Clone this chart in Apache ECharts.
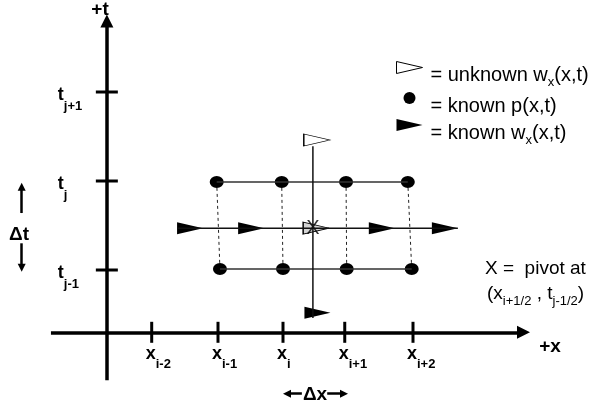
<!DOCTYPE html>
<html>
<head>
<meta charset="utf-8">
<script src="https://cdn.jsdelivr.net/npm/echarts@6/dist/echarts.min.js"></script>
<style>
  html, body { margin: 0; padding: 0; background: #fff; }
  #chart { width: 592px; height: 408px; }
</style>
</head>
<body>
<div id="chart"></div>
<script>
// mesh units: x_i = 0, t_(j-1) = 0
const xTicks = [-2.02, -1, 0, 0.95, 2]
const xTickSubs = ['i-2', 'i-1', 'i', 'i+1', 'i+2']
const tTicks = [2, 1, 0]
const tTickSubs = ['j+1', 'j', 'j-1']

const xAxisAtT = -0.70
const tAxisAtX = -2.71
const xAxisSpan = [-3.57, 3.80]
const tAxisSpan = [-1.24, 2.87]

const pTopX = [-1.02, -0.02, 0.97, 1.92]
const pBotX = [-0.97, 0, 0.98, 1.98]
const pTopT = 0.99
const pBotT = 0.01

const wRowX = [-1.43, -0.49, 1.52, 2.49]
const wRowT = 0.47
const wRowSpan = [-1.63, 2.69]
const wBelow = [0.53, -0.48]
const unknownTop = [0.52, 1.46]
const unknownPivot = [0.51, 0.47]
const pivot = [0.46, 0.47]
const pivotLineSpan = [1.39, -0.54]

const dtArrowX = -4.02
const dtUp = [0.64, 0.98]
const dtDown = [0.30, -0.02]
const dxArrowT = -1.39
const dxLeft = [0.29, 0]
const dxRight = [0.68, 1.0]

// pixel scale of the drawing
const X0 = 283, DX = 65, T0 = 270, DT = 89
const W = 592, H = 408
const FONT = 'Liberation Sans, Arial, sans-serif'

const triPath = 'path://M0,0L26,6L0,12Z'

// pull an arrow's line end back so the head's tip lands on the read value
function tipBackT(t, from, size) { return t - (size / 2) / DT * Math.sign(t - from) }
function tipBack(x0, x1, size) { return x1 - (size / 2) / DX * Math.sign(x1 - x0) }

const chart = echarts.init(document.getElementById('chart'))

const tickRich = {
  b: { fontFamily: FONT, fontSize: 18, fontWeight: 'bold', lineHeight: 20, color: '#000' },
  s: { fontFamily: FONT, fontSize: 13, fontWeight: 'bold', lineHeight: 20, color: '#000', padding: [21, 0, 0, 0] }
}

const legendRich = {
  n: { fontFamily: FONT, fontSize: 20, lineHeight: 22, color: '#000', padding: [0, 0, 0, 3] },
  m: { fontFamily: FONT, fontSize: 20, lineHeight: 22, color: '#000' },
  s: { fontFamily: FONT, fontSize: 13, lineHeight: 22, color: '#000', padding: [14, 0, 0, 0] }
}
const legendText = {
  'unknown w': '{n|= unknown w}{s|x}{m|(x,t)}',
  'known p': '{n|= known p(x,t)}',
  'known w': '{n|= known w}{s|x}{m|(x,t)}'
}

const seg = (coords) => ({ coords })
const textStyle = (text, x, y, align, font) => ({
  type: 'text', silent: true,
  style: { text, x, y, align, verticalAlign: 'middle', textAlign: align, textVerticalAlign: 'middle', font: font + ' ' + FONT, fill: '#000' }
})

chart.setOption({
  animation: false,
  grid: { left: 0, right: 0, top: 0, bottom: 0 },
  xAxis: { type: 'value', show: false, min: -X0 / DX, max: (W - X0) / DX },
  yAxis: { type: 'value', show: false, min: -(H - T0) / DT, max: T0 / DT },
  legend: {
    orient: 'vertical',
    left: 396,
    top: 61,
    padding: 0,
    itemWidth: 26,
    itemHeight: 12,
    itemGap: 3,
    selectedMode: false,
    data: [
      { name: 'unknown w', icon: triPath, itemStyle: { color: '#fff', borderColor: '#000', borderWidth: 1, opacity: 1 } },
      { name: 'known p', icon: 'circle', itemStyle: { color: '#000', borderWidth: 0, opacity: 1 } },
      { name: 'known w', icon: triPath, itemStyle: { color: '#000', borderWidth: 0, opacity: 1 } }
    ],
    formatter: name => legendText[name],
    textStyle: { rich: legendRich, padding: [16, 0, 0, 0] }
  },
  graphic: [
    textStyle('+t', 100, 10, 'center', 'bold 19px'),
    textStyle('+x', 550, 347, 'center', 'bold 19px'),
    textStyle('Δt', 19, 235, 'center', 'bold 19px'),
    textStyle('Δx', 315, 395, 'center', 'bold 19px'),
    textStyle('X =  pivot at', 485, 269, 'left', '19px'),
    {
      type: 'text', silent: true,
      style: {
        text: '{n|(x}{s|i+1/2}{n| , t}{s|j-1/2}{n|)}',
        x: 487, y: 294, align: 'left', verticalAlign: 'middle', textAlign: 'left', textVerticalAlign: 'middle',
        rich: {
          n: { fontFamily: FONT, fontSize: 19, lineHeight: 22, fill: '#000', color: '#000' },
          s: { fontFamily: FONT, fontSize: 13, lineHeight: 22, fill: '#000', color: '#000', padding: [14, 0, 0, 0] }
        }
      }
    }
  ],
  series: [
    {
      name: 'axes',
      type: 'lines',
      coordinateSystem: 'cartesian2d',
      silent: true,
      symbol: ['none', 'triangle'],
      symbolSize: 13,
      lineStyle: { color: '#000', width: 3.5, opacity: 1 },
      data: [
        seg([[xAxisSpan[0], xAxisAtT], [tipBack(xAxisSpan[0], xAxisSpan[1], 13), xAxisAtT]]),
        seg([[tAxisAtX, tAxisSpan[0]], [tAxisAtX, tipBackT(tAxisSpan[1], tAxisSpan[0], 13)]])
      ]
    },
    {
      name: 'delta arrows',
      type: 'lines',
      coordinateSystem: 'cartesian2d',
      silent: true,
      symbol: ['none', 'triangle'],
      symbolSize: 8,
      lineStyle: { color: '#000', width: 2.5, opacity: 1 },
      data: [
        seg([[dtArrowX, dtUp[0]], [dtArrowX, tipBackT(dtUp[1], dtUp[0], 8)]]),
        seg([[dtArrowX, dtDown[0]], [dtArrowX, tipBackT(dtDown[1], dtDown[0], 8)]]),
        seg([[dxLeft[0], dxArrowT], [tipBack(dxLeft[0], dxLeft[1], 8), dxArrowT]]),
        seg([[dxRight[0], dxArrowT], [tipBack(dxRight[0], dxRight[1], 8), dxArrowT]])
      ]
    },
    {
      name: 'x ticks',
      type: 'scatter',
      silent: true,
      symbol: 'rect',
      symbolSize: [3, 21],
      itemStyle: { color: '#000', opacity: 1 },
      label: {
        show: true,
        position: [-4.5, 32],
        align: 'left',
        verticalAlign: 'middle',
        formatter: p => '{b|x}{s|' + xTickSubs[p.dataIndex] + '}',
        rich: tickRich
      },
      data: xTicks.map(x => [x, xAxisAtT])
    },
    {
      name: 't ticks',
      type: 'scatter',
      silent: true,
      symbol: 'rect',
      symbolSize: [22, 3],
      itemStyle: { color: '#000', opacity: 1 },
      label: {
        show: true,
        position: [-38, 5],
        align: 'left',
        verticalAlign: 'middle',
        formatter: p => '{b|t}{s|' + tTickSubs[p.dataIndex] + '}',
        rich: tickRich
      },
      data: tTicks.map(t => [tAxisAtX, t])
    },
    {
      name: 'rows',
      type: 'line',
      silent: true,
      symbol: 'none',
      lineStyle: { color: '#333', width: 1.5 },
      data: pTopX.map(x => [x, pTopT])
    },
    {
      name: 'rows2',
      type: 'line',
      silent: true,
      symbol: 'none',
      lineStyle: { color: '#333', width: 1.5 },
      data: pBotX.map(x => [x, pBotT])
    },
    {
      name: 'columns',
      type: 'lines',
      coordinateSystem: 'cartesian2d',
      silent: true,
      lineStyle: { color: '#222', width: 1, type: [3, 3], opacity: 1 },
      data: pTopX.map((x, k) => seg([[x, pTopT], [pBotX[k], pBotT]]))
    },
    {
      name: 'half row',
      type: 'line',
      silent: true,
      symbol: 'none',
      lineStyle: { color: '#111', width: 1.5 },
      data: [[wRowSpan[0], wRowT], [wRowSpan[1], wRowT]]
    },
    {
      name: 'pivot column',
      type: 'line',
      silent: true,
      symbol: 'none',
      lineStyle: { color: '#111', width: 1.5 },
      data: [[pivot[0], pivotLineSpan[0]], [pivot[0], pivotLineSpan[1]]]
    },
    {
      name: 'known p',
      type: 'scatter',
      silent: true,
      symbol: 'circle',
      symbolSize: [14, 12],
      itemStyle: { color: '#000', opacity: 1 },
      data: pTopX.map(x => [x, pTopT]).concat(pBotX.map(x => [x, pBotT]))
    },
    {
      name: 'known w',
      type: 'scatter',
      silent: true,
      symbol: triPath,
      symbolSize: [26, 12],
      itemStyle: { color: '#000', opacity: 1 },
      data: wRowX.map(x => [x, wRowT]).concat([wBelow])
    },
    {
      name: 'unknown w',
      type: 'scatter',
      silent: true,
      symbol: triPath,
      symbolSize: [26, 12],
      itemStyle: { color: '#fff', borderColor: '#000', borderWidth: 1, opacity: 1 },
      data: [
        { value: unknownTop },
        { value: unknownPivot, itemStyle: { color: '#d4d4d4', borderColor: '#000', borderWidth: 1, opacity: 1 } }
      ]
    },
    {
      name: 'pivot',
      type: 'scatter',
      silent: true,
      symbol: 'circle',
      symbolSize: 1,
      itemStyle: { color: 'rgba(0,0,0,0)' },
      label: {
        show: true,
        position: 'inside',
        formatter: 'X',
        fontFamily: FONT,
        fontSize: 20,
        color: '#000'
      },
      data: [pivot]
    }
  ]
})
</script>
</body>
</html>
